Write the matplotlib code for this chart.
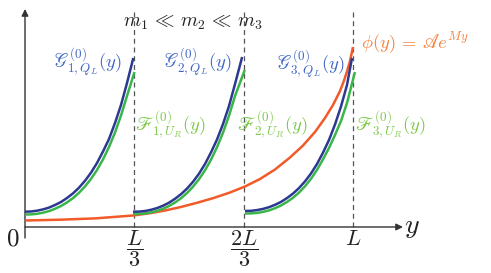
import matplotlib
matplotlib.use('Agg')
import matplotlib.pyplot as plt

plt.rcParams['mathtext.fontset'] = 'cm'

# ---- data (x in units of L, y in arbitrary height units) ----
blue1_x = [0.0000, 0.0183, 0.0366, 0.0549, 0.0732, 0.0915, 0.1098, 0.1280, 0.1463, 0.1646,
           0.1829, 0.2012, 0.2195, 0.2378, 0.2561, 0.2744, 0.2927, 0.3110, 0.3302]
blue1_y = [15.3, 15.5, 16.3, 17.6, 19.4, 22.0, 25.0, 29.0, 33.6, 39.3,
           46.2, 54.3, 64.0, 75.5, 88.0, 104.0, 122.0, 144.0, 169.0]
green1_x = [0.0000, 0.0183, 0.0366, 0.0549, 0.0732, 0.0915, 0.1098, 0.1280, 0.1463, 0.1646,
            0.1829, 0.2012, 0.2195, 0.2378, 0.2561, 0.2744, 0.2927, 0.3110, 0.3338]
green1_y = [12.5, 12.6, 13.2, 14.3, 15.9, 18.2, 21.0, 24.6, 28.9, 34.2,
            40.6, 48.1, 57.0, 67.6, 80.0, 94.5, 111.5, 131.0, 155.0]

blue2_x = [0.3293, 0.3476, 0.3659, 0.3842, 0.4025, 0.4208, 0.4391, 0.4573, 0.4756, 0.4939,
           0.5122, 0.5305, 0.5488, 0.5671, 0.5854, 0.6037, 0.6220, 0.6403, 0.6620]
blue2_y = [15.3, 15.4, 16.0, 17.2, 18.9, 21.3, 24.3, 28.2, 32.8, 38.4,
           45.2, 53.3, 63.0, 74.6, 87.5, 103.0, 121.0, 143.0, 170.0]
green2_x = [0.3293, 0.3476, 0.3659, 0.3842, 0.4025, 0.4208, 0.4391, 0.4573, 0.4756, 0.4939,
            0.5122, 0.5305, 0.5488, 0.5671, 0.5854, 0.6037, 0.6220, 0.6403, 0.6700]
green2_y = [13.0, 13.1, 13.6, 14.6, 16.1, 18.3, 21.0, 24.5, 28.7, 34.0,
            40.3, 47.8, 56.7, 67.3, 79.8, 94.3, 111.3, 131.0, 157.0]

blue3_x = [0.6707, 0.6890, 0.7073, 0.7256, 0.7439, 0.7622, 0.7805, 0.7987, 0.8170, 0.8353,
           0.8536, 0.8719, 0.8902, 0.9085, 0.9268, 0.9451, 0.9634, 0.9817, 0.9970]
blue3_y = [16.0, 16.2, 16.9, 18.1, 19.8, 22.2, 25.1, 28.9, 33.4, 38.9,
           45.6, 53.5, 63.0, 74.3, 87.0, 102.5, 120.5, 142.0, 169.0]
green3_x = [0.6707, 0.6890, 0.7073, 0.7256, 0.7439, 0.7622, 0.7805, 0.7987, 0.8170, 0.8353,
            0.8536, 0.8719, 0.8902, 0.9085, 0.9268, 0.9451, 0.9634, 0.9817, 1.0060]
green3_y = [13.5, 13.6, 14.1, 15.1, 16.6, 18.8, 21.5, 25.0, 29.2, 34.4,
            40.7, 48.2, 57.1, 67.6, 79.0, 92.0, 106.0, 124.0, 155.0]

orange_x = [0.0000, 0.1067, 0.2134, 0.3293, 0.3811, 0.4268, 0.4726, 0.5244, 0.5732, 0.6250,
            0.6707, 0.7165, 0.7622, 0.8079, 0.8476, 0.8841, 0.9146, 0.9390, 0.9604, 0.9726,
            0.9817, 0.9909, 1.0000]
orange_y = [6.5, 7.3, 8.6, 11.5, 13.8, 16.5, 19.8, 24.2, 28.8, 34.5,
            40.5, 48.0, 57.5, 69.5, 81.5, 95.0, 109.0, 122.0, 136.0, 146.5,
            155.5, 166.0, 180.0]

tick_pos = [1/3, 2/3, 1.0]
tick_labels = [r'$\dfrac{L}{3}$', r'$\dfrac{2L}{3}$', r'$L$']

BLUE = '#2b3990'
GREEN = '#3ab54a'
ORANGE = '#f15a29'
BLUE_T = '#3f66c4'
GREEN_T = '#7cc84a'
ORANGE_T = '#f5823f'
AXC = '#333333'

fig = plt.figure(figsize=(4.91, 2.73), dpi=100)
ax = fig.add_axes([0, 0, 1, 1])
ax.set_xlim(-25/328, 466/328)
ax.set_ylim(-46, 227)
ax.axis('off')


def P(px, py):
    return ((px - 25) / 328.0, 227 - py)


# dashed verticals
for xv in tick_pos:
    ax.plot([xv, xv], [0, 217], color='#555555', lw=0.9, ls=(0, (4, 3)), zorder=1)

# axes with arrows
ax.annotate('', xy=P(403, 227), xytext=P(25, 227),
            arrowprops=dict(arrowstyle='-|>', color=AXC, lw=1.0, mutation_scale=10,
                            shrinkA=0, shrinkB=0), zorder=2)
ax.annotate('', xy=P(25, 9), xytext=P(25, 238),
            arrowprops=dict(arrowstyle='-|>', color=AXC, lw=1.0, mutation_scale=10,
                            shrinkA=0, shrinkB=0), zorder=2)

lw = 1.8
ax.plot(orange_x, orange_y, color=ORANGE, lw=lw, zorder=3, solid_capstyle='butt')
for gx, gy in [(green1_x, green1_y), (green2_x, green2_y), (green3_x, green3_y)]:
    ax.plot(gx, gy, color=GREEN, lw=lw, zorder=4, solid_capstyle='butt')
for bx, by in [(blue1_x, blue1_y), (blue2_x, blue2_y), (blue3_x, blue3_y)]:
    ax.plot(bx, by, color=BLUE, lw=lw, zorder=5, solid_capstyle='butt')

# tick labels
ax.text(*P(13, 239), r'$0$', fontsize=18, ha='center', va='center', color='#222222')
for xv, lab in zip(tick_pos, tick_labels):
    if lab == r'$L$':
        ax.text(xv, 227 - 239, lab, fontsize=16, ha='center', va='center', color='#222222')
    else:
        ax.text(xv, 227 - 249, lab, fontsize=16, ha='center', va='center', color='#222222')
ax.text(*P(412, 226), r'$y$', fontsize=20, ha='center', va='center', color='#222222')

# annotations
ax.text(*P(123, 27), r'$m_1 \,\ll\, m_2 \,\ll\, m_3$', fontsize=14, ha='left', va='baseline', color='#222222')
fs = 13.4
ax.text(*P(53, 69), r'$\mathscr{G}^{(0)}_{1,Q_L}(y)$', fontsize=fs, ha='left', va='baseline', color=BLUE_T)
ax.text(*P(163, 69), r'$\mathscr{G}^{(0)}_{2,Q_L}(y)$', fontsize=fs, ha='left', va='baseline', color=BLUE_T)
ax.text(*P(276, 71), r'$\mathscr{G}^{(0)}_{3,Q_L}(y)$', fontsize=fs, ha='left', va='baseline', color=BLUE_T)
ax.text(*P(135, 131), r'$\mathscr{F}^{(0)}_{1,U_R}(y)$', fontsize=fs, ha='left', va='baseline', color=GREEN_T)
ax.text(*P(237, 131), r'$\mathscr{F}^{(0)}_{2,U_R}(y)$', fontsize=fs, ha='left', va='baseline', color=GREEN_T)
ax.text(*P(355, 131), r'$\mathscr{F}^{(0)}_{3,U_R}(y)$', fontsize=fs, ha='left', va='baseline', color=GREEN_T)
ax.text(*P(361, 49), r'$\phi(y) \,=\, \mathscr{A}e^{My}$', fontsize=fs, ha='left', va='baseline', color=ORANGE_T)

fig.savefig('out.png', dpi=100)
